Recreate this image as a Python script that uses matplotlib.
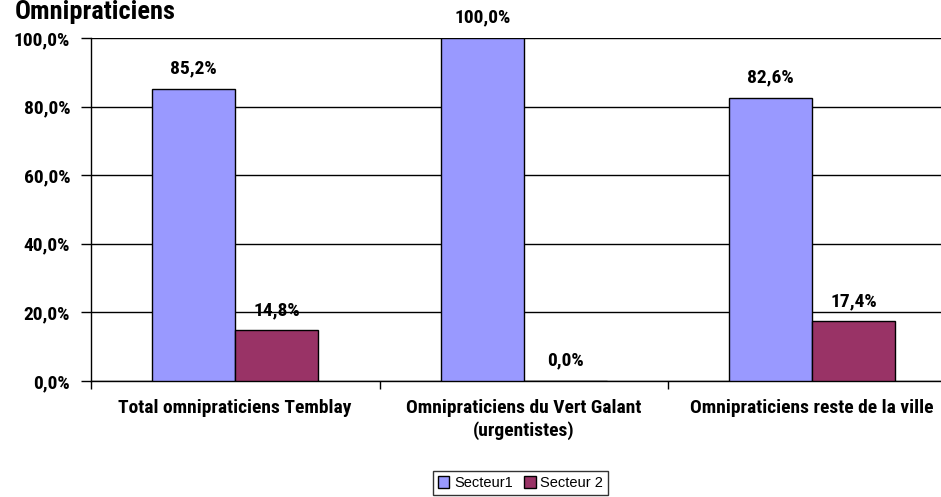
import numpy as np
import matplotlib.pyplot as plt
from matplotlib.patches import Patch
from matplotlib import font_manager

categories = ["Total omnipraticiens Temblay",
              "Omnipraticiens du Vert Galant\n(urgentistes)",
              "Omnipraticiens reste de la ville"]
secteur1 = [85.2, 100.0, 82.6]
secteur2 = [14.8, 0.0, 17.4]
series_names = ["Secteur1", "Secteur 2"]
yticks = [0, 20, 40, 60, 80, 100]

# narrow bold font if available
names = {f.name for f in font_manager.fontManager.ttflist}
FONT = [n for n in ['Liberation Sans Narrow', 'DejaVu Sans Condensed', 'Roboto Condensed']
        if n in names] + ['DejaVu Sans']
plt.rcParams['font.family'] = FONT
condensed = FONT[0] != 'DejaVu Sans'
fs = 14 if condensed else 10.5
fs_cat = 14 if condensed else 10.5

W, H = 941, 497
fig = plt.figure(figsize=(W / 100, H / 100), dpi=100)
ax = fig.add_axes([91 / W, 1 - 381 / H, (956.5 - 91) / W, (381 - 38) / H])

c1 = '#9999ff'
c2 = '#993366'
bw = 0.288
x = np.arange(len(categories))
ax.bar(x - bw / 2, secteur1, bw, color=c1, edgecolor='black', linewidth=1, zorder=3)
ax.bar(x + bw / 2, secteur2, bw, color=c2, edgecolor='black', linewidth=1, zorder=3)

def fmt(v):
    return f"{v:.1f}%".replace('.', ',')

for xi, v in zip(x, secteur1):
    ax.text(xi - bw / 2, v + 3.3, fmt(v), ha='center', va='bottom',
            fontsize=fs, fontweight='bold')
for xi, v in zip(x, secteur2):
    ax.text(xi + bw / 2, v + 3.3, fmt(v), ha='center', va='bottom',
            fontsize=fs, fontweight='bold')

ax.set_xlim(-0.5, len(categories) - 0.5)
ax.set_ylim(0, 100)
ax.set_yticks(yticks)
ax.set_yticklabels([fmt(t) for t in yticks], fontsize=fs, fontweight='bold')
ax.yaxis.grid(True, color='black', linewidth=1, zorder=0)
ax.set_axisbelow(True)

ax.set_xticks(np.arange(len(categories) + 1) - 0.5)
ax.set_xticklabels([])
ax.set_xticks(x, minor=True)
ax.set_xticklabels(categories, minor=True, fontsize=fs_cat, fontweight='bold',
                   linespacing=1.3)
ax.tick_params(axis='x', which='minor', length=0, pad=13)
ax.tick_params(axis='x', which='major', length=6, width=1, color='black')
ax.tick_params(axis='y', length=7, width=1, color='black', pad=8)

for s in ['top', 'right']:
    ax.spines[s].set_visible(False)
for s in ['left', 'bottom']:
    ax.spines[s].set_color('black')
    ax.spines[s].set_linewidth(1)

fig.text(15 / W, 1 - 0 / H, "Omnipraticiens", ha='left', va='top',
         fontsize=19, fontweight='bold')

handles = [Patch(facecolor=c1, edgecolor='black'), Patch(facecolor=c2, edgecolor='black')]
leg = fig.legend(handles, series_names, loc='center', bbox_to_anchor=(520.5 / W, 1 - 483 / H),
                 ncol=2, frameon=True, fancybox=False,
                 handlelength=0.8, handleheight=0.8, handletextpad=0.3, columnspacing=0.8,
                 borderpad=0.35, prop={'family': ['Liberation Sans', 'DejaVu Sans'], 'size': 10.5})
leg.get_frame().set_edgecolor('black')
leg.get_frame().set_linewidth(1)

fig.savefig('out.png', dpi=100)
